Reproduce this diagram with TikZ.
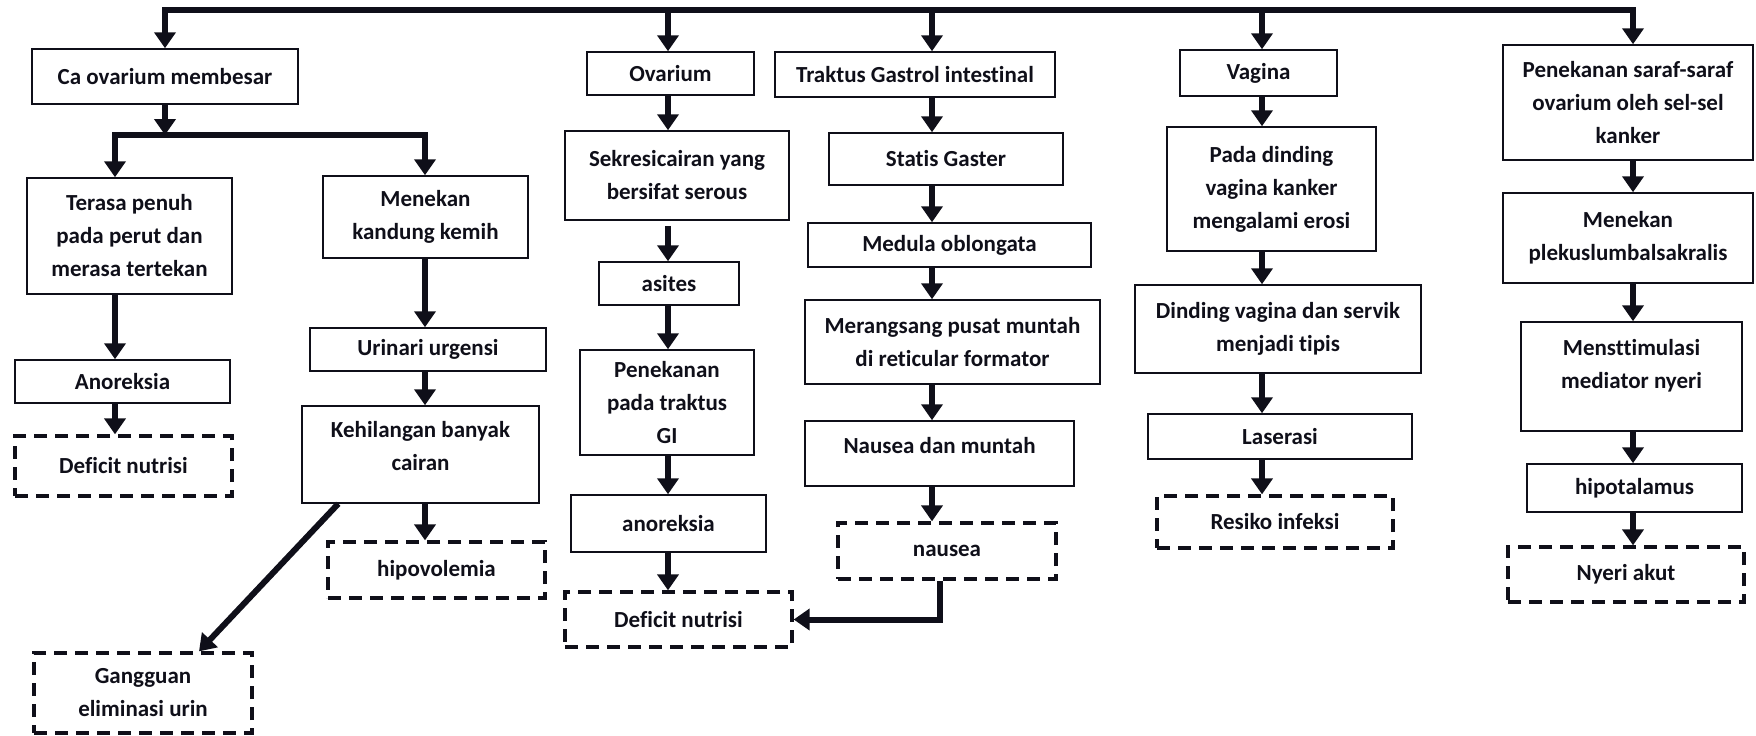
\documentclass[tikz,border=0pt]{standalone}
\usepackage{fontspec}
\setmainfont{Carlito}[Ligatures=NoCommon]
\usetikzlibrary{arrows.meta}
\definecolor{ovInk}{RGB}{15,15,25}

\begin{document}
\begin{tikzpicture}[x=1pt, y=-1pt,
    box/.style={draw=ovInk, line width=1.5pt, align=center, inner sep=2pt,
      font=\fontsize{23}{33}\selectfont\bfseries, text=ovInk},
    dbox/.style={box, line width=3.3pt, dash pattern=on 13pt off 8pt},
    arr/.style={draw=ovInk, line width=6pt, -{Triangle[width=21pt,length=16pt]}},
    bar/.style={draw=ovInk, line width=6pt, line cap=rect}]
  \useasboundingbox (0,0) rectangle (1756,736);
  \coordinate (bus) at (0,10);
  \coordinate (fork) at (0,135);
  \coordinate (xa) at (115,0);
  \coordinate (xb) at (425,0);
  \coordinate (xc) at (668,0);
  \coordinate (xd) at (932,0);
  \coordinate (xe) at (1262,0);
  \coordinate (xf) at (1633,0);

  % Ca ovarium membesar
  \node[box, minimum width=266pt, minimum height=55pt] (ca) at (165,76.5) {Ca ovarium membesar};
  \node[box, minimum width=205pt, minimum height=116pt] (terasa) at (129.5,236) {Terasa penuh\\pada perut dan\\merasa tertekan};
  \node[box, minimum width=205pt, minimum height=82pt] (menekan) at (425.5,217) {Menekan\\kandung kemih};
  \node[box, minimum width=215pt, minimum height=43pt] (anor1) at (122.5,381.5) {Anoreksia};
  \node[dbox, minimum width=217pt, minimum height=60pt] (def1) at (123.5,466) {Deficit nutrisi};
  \node[box, minimum width=236pt, minimum height=43pt] (urin) at (428,349.5) {Urinari urgensi};
  \node[box, minimum width=237pt, minimum height=97pt] (kehil) at (420.5,454.5) {Kehilangan banyak\\cairan\\[-16pt]~};
  \node[dbox, minimum width=217pt, minimum height=56pt] (hipo) at (436.5,570) {hipovolemia};
  \node[dbox, minimum width=218pt, minimum height=80pt] (gang) at (143,693) {Gangguan\\eliminasi urin};

  % Ovarium
  \node[box, minimum width=167pt, minimum height=43pt] (ovar) at (670.5,73.5) {Ovarium};
  \node[box, minimum width=224pt, minimum height=89pt] (sekresi) at (677,175.5) {Sekresicairan yang\\bersifat serous};
  \node[box, minimum width=140pt, minimum height=43pt] (asites) at (669,283.5) {asites};
  \node[box, minimum width=174pt, minimum height=105pt] (pentrak) at (667,402.5) {Penekanan\\pada traktus\\GI};
  \node[box, minimum width=195pt, minimum height=57pt] (anor2) at (668.5,523.5) {anoreksia};
  \node[dbox, minimum width=227pt, minimum height=55pt] (def2) at (678.5,619.5) {Deficit nutrisi};

  % Traktus GI
  \node[box, minimum width=280pt, minimum height=45pt] (traktus) at (915,74.5) {Traktus Gastrol intestinal};
  \node[box, minimum width=234pt, minimum height=52pt] (statis) at (946,159) {Statis Gaster};
  \node[box, minimum width=283pt, minimum height=44pt] (medula) at (949.5,245) {Medula oblongata};
  \node[box, minimum width=295pt, minimum height=84pt] (merang) at (952.5,342) {Merangsang pusat muntah\\di reticular formator};
  \node[box, minimum width=269pt, minimum height=65pt] (nausmun) at (939.5,453.5) {Nausea dan muntah\\[-16pt]~};
  \node[dbox, minimum width=218pt, minimum height=56pt] (nausea) at (947,551) {nausea};

  % Vagina
  \node[box, minimum width=157pt, minimum height=46pt] (vagina) at (1258.5,73) {Vagina};
  \node[box, minimum width=209pt, minimum height=124pt] (pada) at (1271.5,189) {Pada dinding\\vagina kanker\\mengalami erosi};
  \node[box, minimum width=286pt, minimum height=88pt] (dinding) at (1278,329) {Dinding vagina dan servik\\menjadi tipis};
  \node[box, minimum width=264pt, minimum height=45pt] (laser) at (1280,436.5) {Laserasi};
  \node[dbox, minimum width=236pt, minimum height=52pt] (resiko) at (1275,522) {Resiko infeksi};

  % Saraf ovarium
  \node[box, minimum width=250pt, minimum height=115pt] (saraf) at (1628,102.5) {Penekanan saraf-saraf\\ovarium oleh sel-sel\\kanker};
  \node[box, minimum width=250pt, minimum height=90pt] (plekus) at (1628,238) {Menekan\\plekuslumbalsakralis};
  \node[box, minimum width=221pt, minimum height=109pt] (mens) at (1631.5,376.5) {Mensttimulasi\\mediator nyeri\\[-7pt]~};
  \node[box, minimum width=215pt, minimum height=48pt] (hipot) at (1634.5,488) {hipotalamus};
  \node[dbox, minimum width=236pt, minimum height=55pt] (nyeri) at (1626,574.5) {Nyeri akut};

  % top bus
  \draw[bar] (ca.north |- bus) -- (xf |- bus);
  \draw[arr] (ca.north |- bus) -- (ca);
  \draw[arr] (xc |- bus) -- (ovar.north -| xc);
  \draw[arr] (xd |- bus) -- (traktus.north -| xd);
  \draw[arr] (xe |- bus) -- (vagina.north -| xe);
  \draw[arr] (xf |- bus) -- (saraf.north -| xf);

  % fork under Ca ovarium
  \draw[arr] (ca) -- (ca.south |- fork);
  \draw[bar] (xa |- fork) -- (xb |- fork);
  \draw[arr] (xa |- fork) -- (terasa.north -| xa);
  \draw[arr] (xb |- fork) -- (menekan.north -| xb);
  \draw[arr] (terasa.south -| xa) -- (anor1.north -| xa);
  \draw[arr] (anor1.south -| xa) -- (def1.north -| xa);
  \draw[arr] (menekan.south -| xb) -- (urin.north -| xb);
  \draw[arr] (urin.south -| xb) -- (kehil.north -| xb);
  \draw[arr] (kehil.south -| xb) -- (hipo.north -| xb);
  \draw[arr] ([xshift=37pt]kehil.south west) -- ([xshift=56pt]gang.north);

  \draw[arr] (ovar.south -| xc) -- (sekresi.north -| xc);
  \draw[arr, shorten <=5pt] (sekresi.south -| xc) -- (asites.north -| xc);
  \draw[arr] (asites.south -| xc) -- (pentrak.north -| xc);
  \draw[arr] (pentrak.south -| xc) -- (anor2.north -| xc);
  \draw[arr] (anor2.south -| xc) -- (def2.north -| xc);

  \draw[arr] (traktus.south -| xd) -- (statis.north -| xd);
  \draw[arr] (statis.south -| xd) -- (medula.north -| xd);
  \draw[arr] (medula.south -| xd) -- (merang.north -| xd);
  \draw[arr] (merang.south -| xd) -- (nausmun.north -| xd);
  \draw[arr] (nausmun.south -| xd) -- (nausea.north -| xd);
  \draw[arr] ([xshift=-7pt]nausea.south) |- (def2);

  \draw[arr] (vagina.south -| xe) -- (pada.north -| xe);
  \draw[arr] (pada.south -| xe) -- (dinding.north -| xe);
  \draw[arr] (dinding.south -| xe) -- (laser.north -| xe);
  \draw[arr] (laser.south -| xe) -- (resiko.north -| xe);

  \draw[arr] (saraf.south -| xf) -- (plekus.north -| xf);
  \draw[arr] (plekus.south -| xf) -- (mens.north -| xf);
  \draw[arr] (mens.south -| xf) -- (hipot.north -| xf);
  \draw[arr] (hipot.south -| xf) -- (nyeri.north -| xf);
\end{tikzpicture}
\end{document}
